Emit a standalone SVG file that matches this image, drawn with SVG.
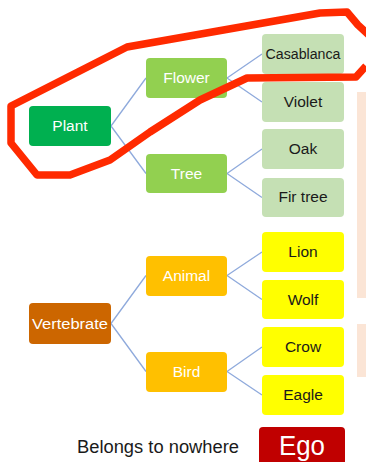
<svg xmlns="http://www.w3.org/2000/svg" width="366" height="462" viewBox="0 0 366 462">
<style>
.t{font-family:"Liberation Sans",Arial,sans-serif;font-size:15.5px;text-anchor:middle}
.w{fill:#ffffff}
.d{fill:#1a1a1a}
.c{stroke:#8FAADC;stroke-width:1.3;fill:none}
.leafg{fill:#C5E0B4}
.leafy{fill:#FFFF00}
.mid{fill:#FFC000}
.panel{fill:#FBE5D6}
</style>
<rect width="366" height="462" fill="#ffffff"/>
<g id="panels">
<rect class="panel" x="357" y="92" width="12" height="206"/>
<rect class="panel" x="357" y="324" width="12" height="53"/>
</g>
<g id="connectors">
<path class="c" d="M111,126 L146,78 M111,126 L146,173.5 M227,78 L262,54 M227,78 L262,102 M227,173.5 L262,149 M227,173.5 L262,197.5 M111,323.5 L146,275.5 M111,323.5 L146,371.5 M227,275.5 L262,252 M227,275.5 L262,299.5 M227,371.5 L262,347 M227,371.5 L262,395"/>
</g>
<g id="plant"><rect x="29" y="106" width="82" height="40" rx="4" fill="#00B050"/><text class="t w" x="70" y="131">Plant</text></g>
<g id="flower"><rect x="146" y="58" width="81" height="40" rx="4" fill="#92D050"/><text class="t w" x="186.5" y="83">Flower</text></g>
<g id="tree"><rect x="146" y="154" width="81" height="39" rx="4" fill="#92D050"/><text class="t w" x="186.5" y="179">Tree</text></g>
<g id="casablanca"><rect class="leafg" x="262" y="34" width="82" height="40" rx="4"/><text class="t d" x="303" y="59" textLength="75" lengthAdjust="spacingAndGlyphs">Casablanca</text></g>
<g id="violet"><rect class="leafg" x="262" y="82" width="82" height="40" rx="4"/><text class="t d" x="303" y="107">Violet</text></g>
<g id="oak"><rect class="leafg" x="262" y="129" width="82" height="40" rx="4"/><text class="t d" x="303" y="154">Oak</text></g>
<g id="firtree"><rect class="leafg" x="262" y="178" width="82" height="39" rx="4"/><text class="t d" x="303" y="202">Fir tree</text></g>
<g id="vertebrate"><rect x="29" y="303" width="82" height="41" rx="4" fill="#CC6600"/><text class="t w" x="70" y="329" textLength="76" lengthAdjust="spacingAndGlyphs">Vertebrate</text></g>
<g id="animal"><rect class="mid" x="146" y="256" width="81" height="40" rx="4"/><text class="t w" x="186.5" y="281">Animal</text></g>
<g id="bird"><rect class="mid" x="146" y="352" width="81" height="40" rx="4"/><text class="t w" x="186.5" y="377">Bird</text></g>
<g id="lion"><rect class="leafy" x="262" y="232" width="82" height="40" rx="4"/><text class="t d" x="303" y="257">Lion</text></g>
<g id="wolf"><rect class="leafy" x="262" y="280" width="82" height="39" rx="4"/><text class="t d" x="303" y="305">Wolf</text></g>
<g id="crow"><rect class="leafy" x="262" y="327" width="82" height="40" rx="4"/><text class="t d" x="303" y="352">Crow</text></g>
<g id="eagle"><rect class="leafy" x="262" y="375" width="82" height="40" rx="4"/><text class="t d" x="303" y="400">Eagle</text></g>
<g id="nowhere"><text x="158" y="453" font-family="'Liberation Sans',Arial,sans-serif" font-size="18" fill="#1a1a1a" text-anchor="middle" textLength="162" lengthAdjust="spacingAndGlyphs">Belongs to nowhere</text></g>
<g id="ego"><rect x="259" y="427" width="86" height="45" rx="4" fill="#C00000"/><text x="302" y="455" font-family="'Liberation Sans',Arial,sans-serif" font-size="27" fill="#ffffff" text-anchor="middle" textLength="46" lengthAdjust="spacingAndGlyphs">Ego</text></g>
<g id="outline">
<path d="M366,66 L356,77 L247,78 L200,100 L150,132 L110,160 L70,175 L37,175 L11,143 L11,106 L127,47 L320,13 L347,12 L358,25 L370,36" fill="none" stroke="#FF2A00" stroke-width="7.5" stroke-linejoin="round"/>
</g>
</svg>
